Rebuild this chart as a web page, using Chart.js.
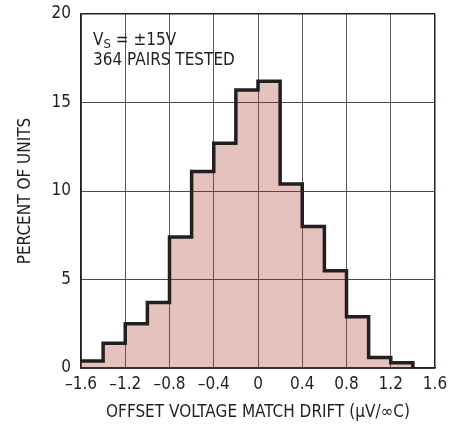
<!DOCTYPE html>
<html>
<head>
<meta charset="utf-8">
<script src="https://cdn.jsdelivr.net/npm/chart.js@4.4.1/dist/chart.umd.min.js"></script>
<style>
  html, body { margin: 0; padding: 0; background: #fff; }
  #wrap { width: 462px; height: 425px; }
</style>
</head>
<body>
<div id="wrap"><canvas id="histo" width="462" height="425"></canvas></div>
<script>
  // bin edges (µV/°C) and percent of units in each bin
  const binEdges = [-1.6, -1.4, -1.2, -1.0, -0.8, -0.6, -0.4, -0.2, 0, 0.2, 0.4, 0.6, 0.8, 1.0, 1.2, 1.4];
  const percents = [0.4, 1.4, 2.5, 3.7, 7.4, 11.1, 12.7, 15.7, 16.2, 10.4, 8.0, 5.5, 2.9, 0.6, 0.3];
  const xTicks = [-1.6, -1.2, -0.8, -0.4, 0, 0.4, 0.8, 1.2, 1.6];
  const yTicks = [0, 5, 10, 15, 20];
  const noteLines = ['364 PAIRS TESTED'];

  const FONT = "'DejaVu Sans Condensed', 'Liberation Sans', Arial, sans-serif";
  const INK = '#231f20';

  // stepped outline: point i holds bin i's value at its right edge,
  // first point opens the outline at the left edge
  const points = [{ x: binEdges[0], y: percents[0] }].concat(
    percents.map((p, i) => ({ x: binEdges[i + 1], y: p })),
    [{ x: binEdges[binEdges.length - 1], y: 0 }]
  );

  function fmt(v) {
    if (Math.abs(v) < 1e-9) return '0';
    const s = Math.abs(v).toFixed(1);
    return v < 0 ? '\u2013' + s : s;
  }

  // text note in the upper left of the plot
  const notePlugin = {
    id: 'note',
    afterDraw(chart) {
      const c = chart.ctx;
      const a = chart.chartArea;
      const x = a.left + 12;
      c.save();
      c.fillStyle = INK;
      c.textBaseline = 'alphabetic';
      c.font = '17px ' + FONT;
      c.fillText('V', x, a.top + 31);
      let w = c.measureText('V').width;
      c.font = '13px ' + FONT;
      c.fillText('S', x + w, a.top + 34);
      w += c.measureText('S').width;
      c.font = '17px ' + FONT;
      c.fillText(' = \u00b115V', x + w, a.top + 31);
      noteLines.forEach((t, i) => c.fillText(t, x, a.top + 51 + i * 20));
      c.restore();
    }
  };

  const ctx = document.getElementById('histo').getContext('2d');
  new Chart(ctx, {
    type: 'line',
    data: {
      datasets: [{
        data: points,
        stepped: 'after',
        borderColor: INK,
        borderWidth: 3.5,
        backgroundColor: 'rgba(168, 52, 35, 0.3)',
        fill: 'origin',
        pointRadius: 0,
        borderJoinStyle: 'miter'
      }]
    },
    options: {
      responsive: false,
      animation: false,
      layout: { padding: { top: 14, right: 27, left: 0, bottom: 0 } },
      plugins: { legend: { display: false }, tooltip: { enabled: false } },
      scales: {
        x: {
          type: 'linear',
          min: xTicks[0],
          max: xTicks[xTicks.length - 1],
          afterBuildTicks: s => { s.ticks = xTicks.map(v => ({ value: v })); },
          afterFit: s => { s.height = 57; },
          grid: {
            drawTicks: false,
            color: c => c.tick && c.tick.value === xTicks[xTicks.length - 1] ? INK : '#5a5a5a',
            lineWidth: c => c.tick && c.tick.value === xTicks[xTicks.length - 1] ? 1.5 : 1
          },
          border: { color: INK, width: 1.5 },
          ticks: {
            padding: 6,
            color: INK,
            font: { family: FONT, size: 17 },
            maxRotation: 0,
            autoSkip: false,
            callback: v => fmt(v)
          },
          title: {
            display: true,
            text: 'OFFSET VOLTAGE MATCH DRIFT (\u03bcV/\u221eC)',
            color: INK,
            font: { family: FONT, size: 17 },
            padding: { top: 2, bottom: 2 }
          }
        },
        y: {
          min: yTicks[0],
          max: yTicks[yTicks.length - 1],
          afterBuildTicks: s => { s.ticks = yTicks.map(v => ({ value: v })); },
          afterFit: s => { s.width = 81; s.paddingTop = 0; s.paddingBottom = 0; },
          grid: {
            drawTicks: false,
            color: c => c.tick && c.tick.value === yTicks[yTicks.length - 1] ? INK : '#4a4a4a',
            lineWidth: c => c.tick && c.tick.value === yTicks[yTicks.length - 1] ? 1.5 : 1
          },
          border: { color: INK, width: 1.5 },
          ticks: {
            padding: 10,
            color: INK,
            font: { family: FONT, size: 17 },
            callback: v => String(v)
          },
          title: {
            display: true,
            text: 'PERCENT OF UNITS',
            color: INK,
            font: { family: FONT, size: 17 },
            padding: { top: 15, bottom: 0 }
          }
        }
      }
    },
    plugins: [notePlugin]
  });
</script>
</body>
</html>
